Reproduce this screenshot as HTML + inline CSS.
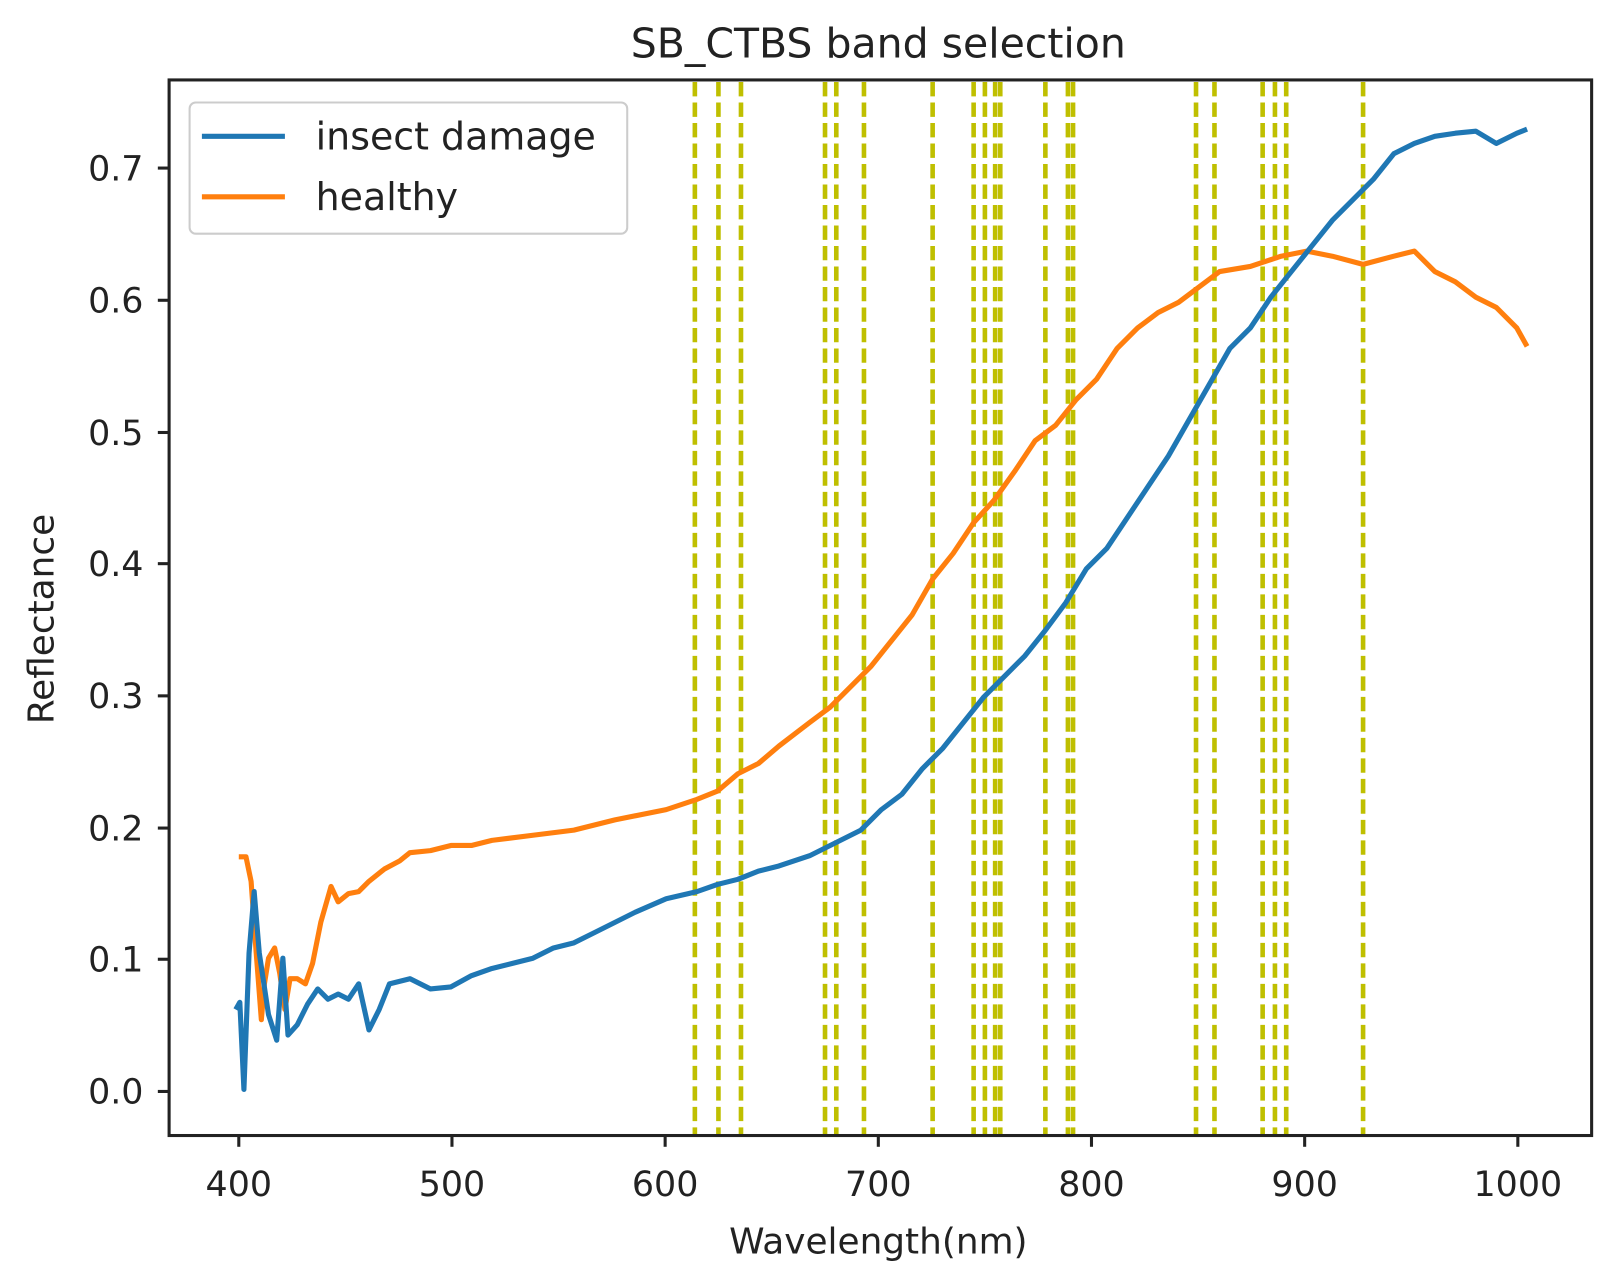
<!DOCTYPE html>
<html><head><style>body{margin:0;background:#fff}svg{display:block}text{font-family:"DejaVu Sans","Liberation Sans",sans-serif;fill:#222}</style></head><body>
<svg width="1607" height="1279" viewBox="0 0 1568 1248" preserveAspectRatio="none">
<rect width="1568" height="1248" fill="#fff"/>
<text x="857" y="56" font-size="40" text-anchor="middle">SB_CTBS band selection</text>
<g stroke="#bfbf00" stroke-width="4.5" stroke-dasharray="14,6">
<line x1="678" y1="80" x2="678" y2="1107"/><line x1="701" y1="80" x2="701" y2="1107"/><line x1="723" y1="80" x2="723" y2="1107"/>
<line x1="805" y1="80" x2="805" y2="1107"/><line x1="816" y1="80" x2="816" y2="1107"/><line x1="843" y1="80" x2="843" y2="1107"/>
<line x1="910" y1="80" x2="910" y2="1107"/><line x1="950" y1="80" x2="950" y2="1107"/><line x1="961" y1="80" x2="961" y2="1107"/>
<line x1="971" y1="80" x2="971" y2="1107"/><line x1="976" y1="80" x2="976" y2="1107"/><line x1="1020" y1="80" x2="1020" y2="1107"/>
<line x1="1042" y1="80" x2="1042" y2="1107"/><line x1="1047" y1="80" x2="1047" y2="1107"/><line x1="1167" y1="80" x2="1167" y2="1107"/>
<line x1="1185" y1="80" x2="1185" y2="1107"/><line x1="1232" y1="80" x2="1232" y2="1107"/><line x1="1244" y1="80" x2="1244" y2="1107"/>
<line x1="1255" y1="80" x2="1255" y2="1107"/><line x1="1330" y1="80" x2="1330" y2="1107"/>
</g>
<polyline fill="none" stroke="#ff7f0e" stroke-width="5" stroke-linejoin="round" points="233,836 240,836 245,860 250,930 255,995 258,960 262,935 268,925 273,950 278,985 283,955 290,955 298,960 305,940 313,900 323,865 330,880 340,872 350,870 360,860 375,848 390,840 400,832 420,830 440,825 460,825 480,820 520,815 560,810 600,800 650,790 680,780 700,772 720,755 740,745 760,728 790,705 810,690 830,670 850,650 870,625 890,600 910,565 930,540 950,510 970,488 990,460 1010,430 1030,415 1050,390 1070,370 1090,340 1110,320 1130,305 1150,295 1170,280 1190,265 1220,260 1250,250 1275,245 1300,250 1330,258 1360,250 1380,245 1400,265 1420,275 1440,290 1460,300 1480,320 1490,338"/>
<polyline fill="none" stroke="#1f77b4" stroke-width="5" stroke-linejoin="round" points="230,985 234,978 238,1063 243,930 248,870 253,930 262,990 270,1015 276,935 281,1010 290,1000 300,980 310,965 320,975 330,970 340,975 350,960 360,1005 370,985 380,960 400,955 420,965 440,963 460,952 480,945 500,940 520,935 540,925 560,920 580,910 600,900 620,890 650,877 680,870 700,863 720,858 740,850 760,845 790,835 820,820 840,810 860,790 880,775 900,750 920,730 940,705 960,680 980,660 1000,640 1020,615 1040,588 1060,555 1080,535 1100,505 1120,475 1140,445 1160,410 1180,375 1200,340 1220,320 1240,290 1260,265 1280,240 1300,215 1320,195 1340,175 1360,150 1380,140 1400,133 1420,130 1440,128 1460,140 1480,130 1490,126"/>
<rect x="165" y="78" width="1388" height="1030" fill="none" stroke="#222" stroke-width="3"/>
<g stroke="#222" stroke-width="3">
<line x1="233" y1="1108" x2="233" y2="1119"/><line x1="441" y1="1108" x2="441" y2="1119"/><line x1="649" y1="1108" x2="649" y2="1119"/><line x1="857" y1="1108" x2="857" y2="1119"/><line x1="1065" y1="1108" x2="1065" y2="1119"/><line x1="1273" y1="1108" x2="1273" y2="1119"/><line x1="1481" y1="1108" x2="1481" y2="1119"/>
<line x1="154" y1="1065" x2="165" y2="1065"/><line x1="154" y1="936" x2="165" y2="936"/><line x1="154" y1="808" x2="165" y2="808"/><line x1="154" y1="679" x2="165" y2="679"/><line x1="154" y1="550" x2="165" y2="550"/><line x1="154" y1="422" x2="165" y2="422"/><line x1="154" y1="293" x2="165" y2="293"/><line x1="154" y1="164" x2="165" y2="164"/>
</g>
<g font-size="34" text-anchor="middle">
<text x="233" y="1167">400</text><text x="441" y="1167">500</text><text x="649" y="1167">600</text><text x="857" y="1167">700</text><text x="1065" y="1167">800</text><text x="1273" y="1167">900</text><text x="1481" y="1167">1000</text>
</g>
<g font-size="34" text-anchor="end">
<text x="140" y="1077">0.0</text><text x="140" y="948">0.1</text><text x="140" y="820">0.2</text><text x="140" y="691">0.3</text><text x="140" y="562">0.4</text><text x="140" y="434">0.5</text><text x="140" y="305">0.6</text><text x="140" y="176">0.7</text>
</g>
<text x="857" y="1223" font-size="35" text-anchor="middle">Wavelength(nm)</text>
<text transform="translate(52,604) rotate(-90)" font-size="35" text-anchor="middle">Reflectance</text>
<rect x="185" y="100" width="427" height="128" rx="6" fill="#fff" fill-opacity="0.85" stroke="#ccc" stroke-width="2"/>
<line x1="197" y1="133" x2="278" y2="133" stroke="#1f77b4" stroke-width="5"/>
<line x1="197" y1="192" x2="278" y2="192" stroke="#ff7f0e" stroke-width="5"/>
<text x="308" y="146" font-size="37">insect damage</text>
<text x="308" y="205" font-size="37">healthy</text>
</svg>
</body></html>
